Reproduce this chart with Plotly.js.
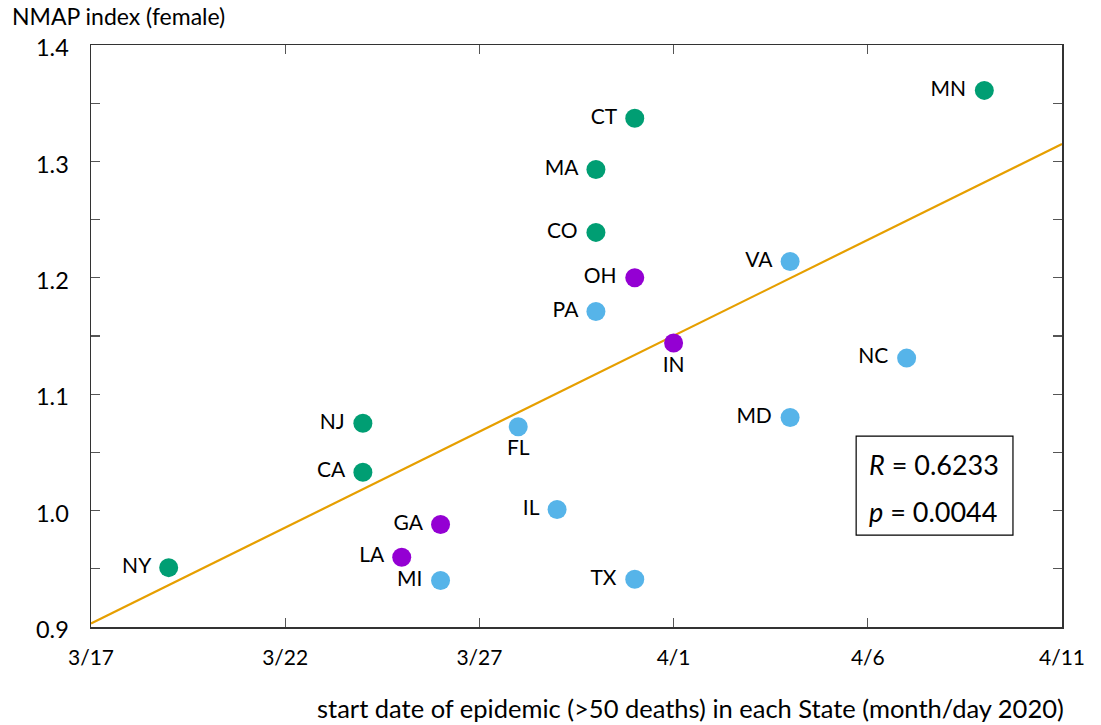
<!DOCTYPE html>
<html>
<head>
<meta charset="utf-8">
<script src="https://cdn.plot.ly/plotly-3.0.1.min.js"></script>
<style>html,body{margin:0;padding:0;background:#fff;}#chart{width:1101px;height:725px;}</style>
</head>
<body>
<div id="chart"></div>
<script>
// Green group
const greenStates = ['NY', 'NJ', 'CA', 'CT', 'MA', 'CO', 'MN'];
const greenDates  = ['2020-03-19', '2020-03-24', '2020-03-24', '2020-03-31', '2020-03-30', '2020-03-30', '2020-04-09'];
const greenValues = [0.951, 1.075, 1.033, 1.337, 1.293, 1.239, 1.361];
// Purple group
const purpleStates = ['LA', 'GA', 'OH', 'IN'];
const purpleDates  = ['2020-03-25', '2020-03-26', '2020-03-31', '2020-04-01'];
const purpleValues = [0.960, 0.988, 1.200, 1.144];
// Blue group
const blueStates = ['MI', 'FL', 'IL', 'PA', 'TX', 'VA', 'MD', 'NC'];
const blueDates  = ['2020-03-26', '2020-03-28', '2020-03-29', '2020-03-30', '2020-03-31', '2020-04-04', '2020-04-04', '2020-04-07'];
const blueValues = [0.940, 1.072, 1.001, 1.171, 0.941, 1.214, 1.080, 1.131];
// Regression line end points
const fitDates  = ['2020-03-17', '2020-04-11'];
const fitValues = [0.903, 1.315];
// Ticks
const xTickVals = ['2020-03-17', '2020-03-22', '2020-03-27', '2020-04-01', '2020-04-06', '2020-04-11'];
const xTickText = ['3/17', '3/22', '3/27', '4/1', '4/6', '4/11'];
const statR = '0.6233';
const statP = '0.0044';

const FONT = 'Lato, "Open Sans", sans-serif';
const belowLabels = ['FL', 'IN'];
function positions(states) {
  return states.map(s => belowLabels.includes(s) ? 'bottom center' : 'middle left');
}
function labels(states) {
  return states.map(s => belowLabels.includes(s) ? s : s + '\u00a0');
}
function group(states, dates, values, color) {
  return {
    type: 'scatter', mode: 'markers+text',
    x: dates, y: values, text: labels(states),
    textposition: positions(states),
    textfont: {family: FONT, size: 21, color: '#000'},
    marker: {size: 19, color: color},
    cliponaxis: false, hoverinfo: 'skip', showlegend: false
  };
}

const traces = [
  {type: 'scatter', mode: 'lines', x: fitDates, y: fitValues,
   line: {color: '#E69F00', width: 2.2}, hoverinfo: 'skip', showlegend: false},
  group(greenStates, greenDates, greenValues, '#009E73'),
  group(purpleStates, purpleDates, purpleValues, '#9400D3'),
  group(blueStates, blueDates, blueValues, '#56B4E9')
];

const layout = {
  width: 1101, height: 725,
  margin: {l: 91, r: 39, t: 45, b: 98},
  paper_bgcolor: '#fff', plot_bgcolor: '#fff',
  font: {family: FONT, color: '#000'},
  showlegend: false,
  xaxis: {
    type: 'date', range: ['2020-03-17', '2020-04-11'],
    tickvals: xTickVals, ticktext: xTickText,
    ticks: 'inside', ticklen: 9, tickcolor: '#555', tickwidth: 1.2,
    showline: true, linecolor: '#333', linewidth: 1.5, mirror: 'ticks',
    showgrid: false, zeroline: false,
    tickfont: {family: FONT, size: 21, color: '#000'},
    ticklabelstandoff: 11
  },
  yaxis: {
    range: [0.9, 1.4], dtick: 0.1, tick0: 0.9, tickformat: '.1f',
    ticks: 'inside', ticklen: 9, tickcolor: '#555', tickwidth: 1.2,
    minor: {dtick: 0.05, ticks: 'inside', ticklen: 9, tickcolor: '#555', tickwidth: 1.2, showgrid: false},
    showline: true, linecolor: '#333', linewidth: 1.5, mirror: 'ticks',
    showgrid: false, zeroline: false,
    tickfont: {family: FONT, size: 23.5, color: '#000'},
    ticklabelstandoff: 16, ticklabelshift: 3
  },
  shapes: [
    {type: 'rect', xref: 'paper', yref: 'paper', x0: 0.788, x1: 0.9495, y0: 0.158, y1: 0.328,
     line: {color: '#000', width: 1.2}, fillcolor: 'rgba(0,0,0,0)'}
  ],
  annotations: [
    {xref: 'paper', yref: 'paper', x: -0.0834, y: 1.0505, xanchor: 'left', yanchor: 'middle',
     text: 'NMAP index (female)', showarrow: false, font: {family: FONT, size: 23, color: '#000'}},
    {xref: 'paper', yref: 'paper', x: 0.617, y: -0.139, xanchor: 'center', yanchor: 'middle',
     text: 'start date of epidemic (>50 deaths) in each State (month/day 2020)',
     showarrow: false, font: {family: FONT, size: 25.5, color: '#000'}},
    {xref: 'paper', yref: 'paper', x: 0.799, y: 0.280, xanchor: 'left', yanchor: 'middle',
     text: '<i>R</i> = ' + statR, showarrow: false, font: {family: FONT, size: 27, color: '#000'}},
    {xref: 'paper', yref: 'paper', x: 0.799, y: 0.1976, xanchor: 'left', yanchor: 'middle',
     text: '<i>p</i> = ' + statP, showarrow: false, font: {family: FONT, size: 27, color: '#000'}}
  ]
};

Plotly.newPlot('chart', traces, layout, {displayModeBar: false, staticPlot: true});
</script>
</body>
</html>
